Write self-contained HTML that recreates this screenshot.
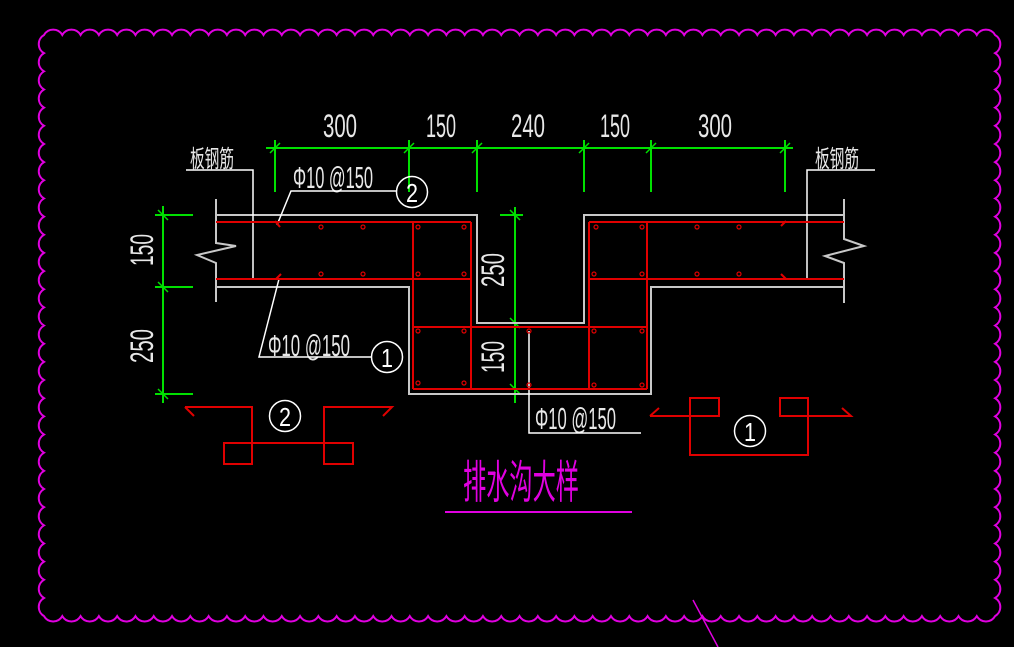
<!DOCTYPE html>
<html><head><meta charset="utf-8"><style>
html,body{margin:0;padding:0;background:#000;overflow:hidden}
svg{display:block}
text{font-family:"Liberation Sans","Noto Sans CJK SC",sans-serif}
</style></head><body>
<svg id="s" width="1014" height="647" viewBox="0 0 1014 647" xmlns="http://www.w3.org/2000/svg">
<rect width="1014" height="647" fill="#000"/>
<path id="cloud" fill="none" stroke="#e000e0" stroke-width="2"/>
<line x1="693" y1="600" x2="718" y2="647" stroke="#e000e0" stroke-width="1.5"/>

<g stroke="#00e000" stroke-width="2" fill="none">
<line x1="266" y1="148" x2="793" y2="148"/>
<line x1="275" y1="140" x2="275" y2="192"/>
<line x1="409" y1="140" x2="409" y2="192"/>
<line x1="477" y1="140" x2="477" y2="192"/>
<line x1="584" y1="140" x2="584" y2="192"/>
<line x1="651" y1="140" x2="651" y2="192"/>
<line x1="785" y1="140" x2="785" y2="192"/>
<line x1="163" y1="206" x2="163" y2="403"/>
<line x1="155" y1="215" x2="193" y2="215"/>
<line x1="155" y1="287" x2="193" y2="287"/>
<line x1="155" y1="394" x2="193" y2="394"/>
<line x1="515" y1="207" x2="515" y2="403"/>
<line x1="500" y1="215" x2="523" y2="215"/>
</g>
<g stroke="#00e000" stroke-width="1.5">
<line x1="270" y1="153" x2="280" y2="143"/><line x1="404" y1="153" x2="414" y2="143"/>
<line x1="472" y1="153" x2="482" y2="143"/><line x1="579" y1="153" x2="589" y2="143"/>
<line x1="646" y1="153" x2="656" y2="143"/><line x1="780" y1="153" x2="790" y2="143"/>
<line x1="158" y1="210" x2="168" y2="220"/><line x1="158" y1="282" x2="168" y2="292"/>
<line x1="158" y1="389" x2="168" y2="399"/>
<line x1="510" y1="210" x2="520" y2="220"/><line x1="510" y1="318" x2="520" y2="328"/>
<line x1="510" y1="384" x2="520" y2="394"/>
</g>

<g fill="#e8e8e8" font-size="32">
<text x="323" y="137" textLength="34" lengthAdjust="spacingAndGlyphs">300</text>
<text x="426" y="137" textLength="30" lengthAdjust="spacingAndGlyphs">150</text>
<text x="511" y="137" textLength="34" lengthAdjust="spacingAndGlyphs">240</text>
<text x="600" y="137" textLength="30" lengthAdjust="spacingAndGlyphs">150</text>
<text x="698" y="137" textLength="34" lengthAdjust="spacingAndGlyphs">300</text>
<text transform="translate(153,266) rotate(-90)" textLength="32" lengthAdjust="spacingAndGlyphs">150</text>
<text transform="translate(153,363) rotate(-90)" textLength="34" lengthAdjust="spacingAndGlyphs">250</text>
<text transform="translate(504,287) rotate(-90)" textLength="34" lengthAdjust="spacingAndGlyphs">250</text>
<text transform="translate(504,373) rotate(-90)" textLength="32" lengthAdjust="spacingAndGlyphs">150</text>
<text x="293" y="188" font-size="31" textLength="80" lengthAdjust="spacingAndGlyphs">Φ10 @150</text>
<text x="268" y="356" font-size="31" textLength="82" lengthAdjust="spacingAndGlyphs">Φ10 @150</text>
<text x="535" y="429" font-size="31" textLength="81" lengthAdjust="spacingAndGlyphs">Φ10 @150</text>
<text x="190" y="167" font-size="24" textLength="44" lengthAdjust="spacingAndGlyphs">板钢筋</text>
<text x="815" y="167" font-size="24" textLength="44" lengthAdjust="spacingAndGlyphs">板钢筋</text>
</g>

<g stroke="#c8c8c8" stroke-width="2" fill="none">
<polyline points="216,199 216,243 236,246 197,255 216,263 216,302"/>
<polyline points="844,199 844,239 864,246 825,256 844,263 844,303"/>
<polyline points="216,215 477,215 477,323 584,323 584,215 844,215"/>
<polyline points="216,287 409,287 409,394 651,394 651,287 844,287"/>
</g>

<g stroke="#fff" stroke-width="1.5" fill="none">
<polyline points="186,170 253,170 253,279"/>
<polyline points="875,170 807,170 807,279"/>
<polyline points="277,225 291,191 397,191"/>
<polyline points="279,279 259,357 371,357"/>
<polyline points="529,331 529,433 641,433"/>
<circle cx="412" cy="192" r="15.5"/>
<circle cx="387" cy="357" r="15.5"/>
<circle cx="285" cy="416" r="15.5"/>
<circle cx="750" cy="431" r="15.5"/>
</g>
<g fill="#fff" font-size="26" text-anchor="middle">
<text x="412" y="202" textLength="12" lengthAdjust="spacingAndGlyphs">2</text><text x="387" y="367" textLength="12" lengthAdjust="spacingAndGlyphs">1</text>
<text x="285" y="426" textLength="12" lengthAdjust="spacingAndGlyphs">2</text><text x="750" y="441" textLength="12" lengthAdjust="spacingAndGlyphs">1</text>
</g>

<g stroke="#e00000" stroke-width="2" fill="none">
<line x1="216" y1="222" x2="471" y2="222"/>
<line x1="216" y1="279" x2="471" y2="279"/>
<line x1="413" y1="222" x2="413" y2="389"/>
<line x1="471" y1="222" x2="471" y2="389"/>
<line x1="413" y1="327" x2="647" y2="327"/>
<line x1="413" y1="389" x2="647" y2="389"/>
<line x1="589" y1="222" x2="589" y2="389"/>
<line x1="647" y1="222" x2="647" y2="389"/>
<line x1="589" y1="222" x2="844" y2="222"/>
<line x1="589" y1="279" x2="844" y2="279"/>
<line x1="275" y1="221" x2="280" y2="227"/><line x1="276" y1="279" x2="281" y2="274"/>
<line x1="781" y1="226" x2="786" y2="221"/><line x1="781" y1="274" x2="786" y2="279"/>
<polyline points="185,407 194,416"/><polyline points="185,407 252,407 252,464 224,464 224,443 353,443 353,464 324,464 324,407 392,407 383,416"/>
<polyline points="650,416 659,408"/><polyline points="650,416 719,416 719,398 690,398 690,455 808,455 808,398 780,398 780,416 851,416 842,408"/>
</g>
<g stroke="#e00000" stroke-width="1.2" fill="none" id="dots"></g>

<text x="463" y="494" font-size="40" fill="#e000e0" textLength="116" lengthAdjust="spacingAndGlyphs" transform="translate(0,-60) scale(1,1.13)">排水沟大样</text>
<line x1="445" y1="512" x2="632" y2="512" stroke="#e000e0" stroke-width="2"/>
</svg>
<script>
(function(){
var d="M44 35";var n=52,w=(995-44)/n;for(var i=0;i<n;i++)d+=" a10.5 10.5 0 0 1 "+w.toFixed(2)+" 0";
n=32;var h=(616-35)/n;for(i=0;i<n;i++)d+=" a10.5 10.5 0 0 1 0 "+h.toFixed(2);
n=52;for(i=0;i<n;i++)d+=" a10.5 10.5 0 0 1 -"+w.toFixed(2)+" 0";
n=32;for(i=0;i<n;i++)d+=" a10.5 10.5 0 0 1 0 -"+h.toFixed(2);
document.getElementById("cloud").setAttribute("d",d+"Z");
var pts=[[321,227],[363,227],[418,227],[464,227],[321,274],[363,274],[418,274],[464,274],[418,331],[464,331],[418,383],[464,383],
[596,227],[642,227],[697,227],[739,227],[594,274],[642,274],[697,274],[739,274],[529,331],[594,331],[642,331],[529,385],[594,385],[642,385]];
var g=document.getElementById("dots"),ns="http://www.w3.org/2000/svg";
pts.forEach(function(p){var c=document.createElementNS(ns,"circle");c.setAttribute("cx",p[0]);c.setAttribute("cy",p[1]);c.setAttribute("r",2);g.appendChild(c);});
})();
</script>
</body></html>
